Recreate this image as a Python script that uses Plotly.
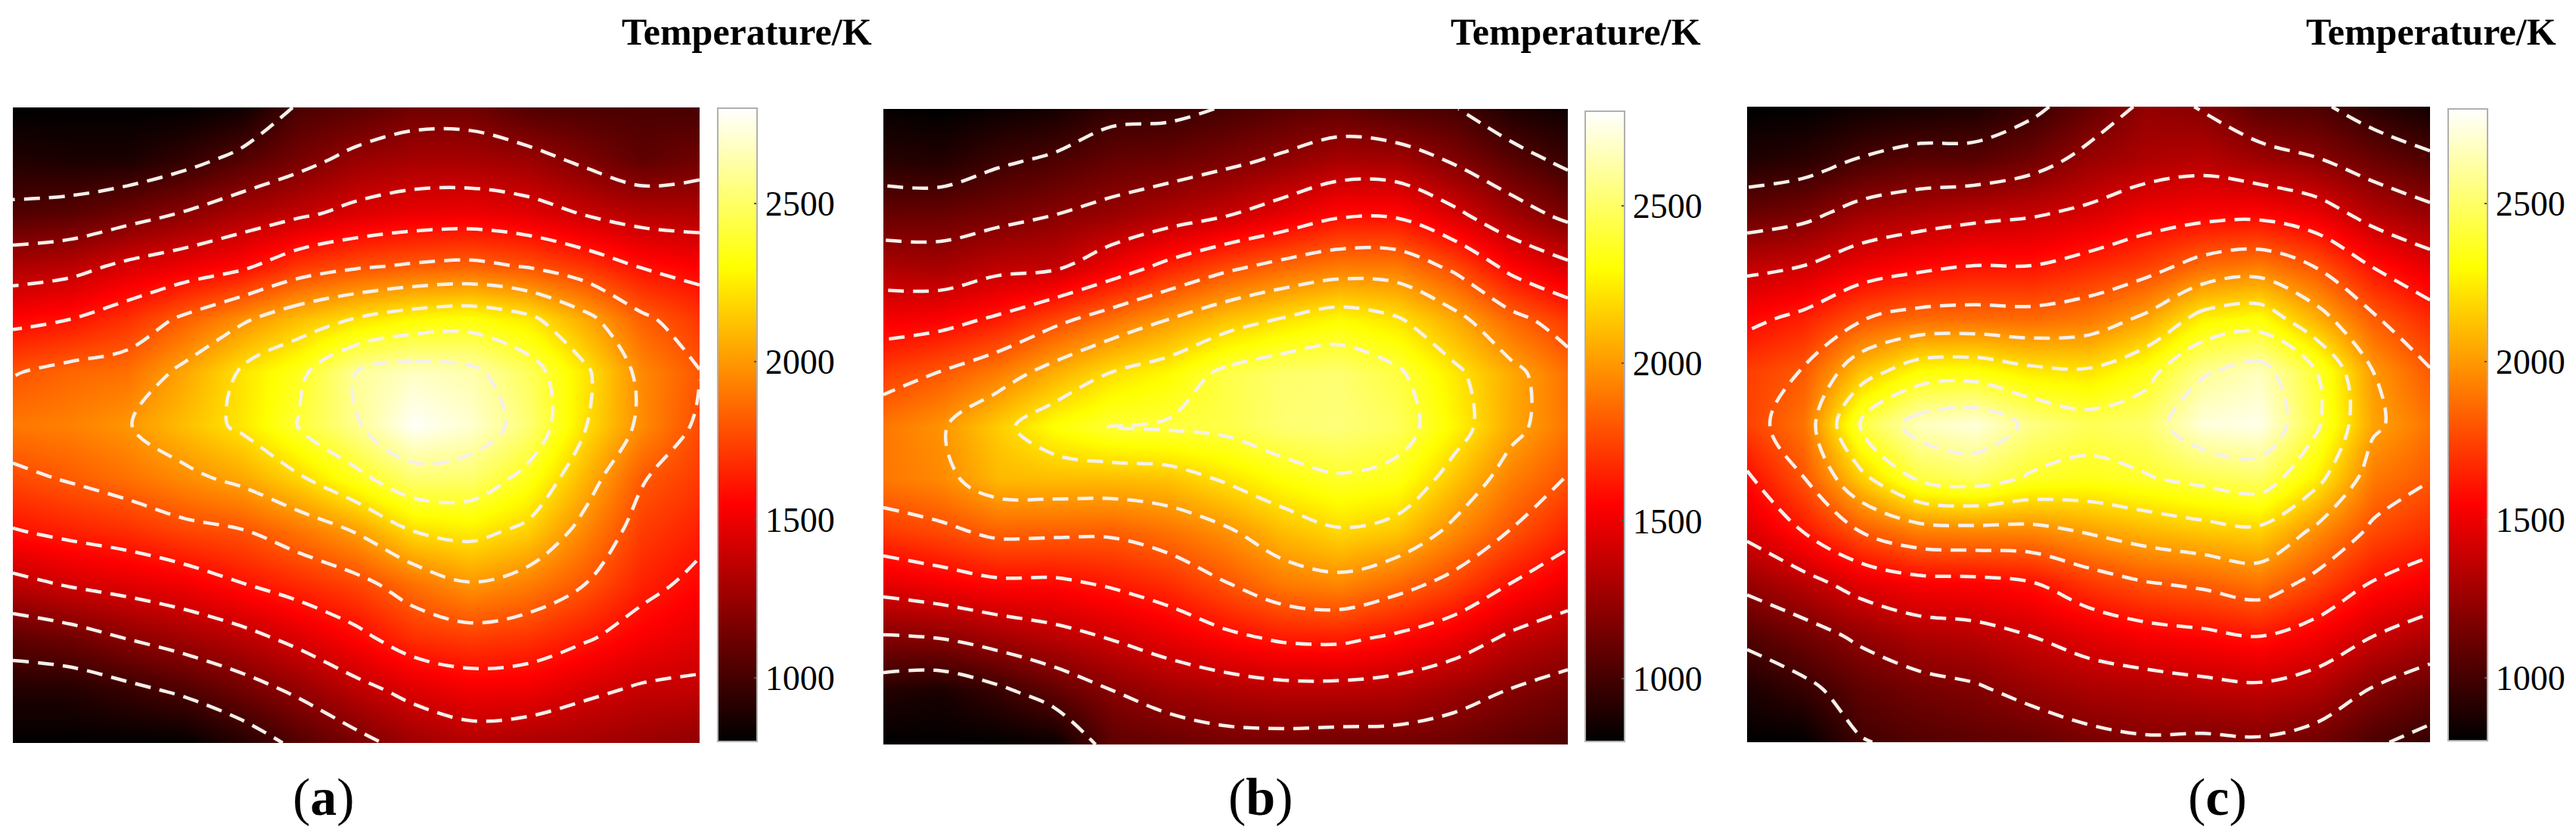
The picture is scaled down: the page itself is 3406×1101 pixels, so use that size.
import plotly.graph_objects as go

# temperature, K, rows top to bottom, columns left to right
temp_a = [
    [800, 800, 800, 800, 840, 1020, 1060, 1130, 1130, 1040, 1020, 1015, 1010],
    [900, 880, 880, 950, 1050, 1150, 1250, 1290, 1290, 1260, 1170, 1080, 1130],
    [1035, 1060, 1130, 1210, 1300, 1370, 1445, 1490, 1500, 1465, 1390, 1330, 1320],
    [1310, 1345, 1435, 1500, 1570, 1710, 1780, 1820, 1840, 1790, 1700, 1590, 1540],
    [1555, 1600, 1690, 1830, 1975, 2110, 2210, 2290, 2320, 2240, 2050, 1830, 1710],
    [1790, 1850, 1880, 2040, 2220, 2360, 2600, 2680, 2640, 2480, 2230, 1950, 1805],
    [1900, 1930, 1990, 2110, 2230, 2410, 2580, 2790, 2710, 2530, 2210, 1960, 1770],
    [1760, 1815, 1880, 1960, 2040, 2180, 2355, 2520, 2510, 2350, 2080, 1810, 1720],
    [1590, 1640, 1680, 1750, 1790, 1890, 2010, 2200, 2250, 2160, 1940, 1725, 1640],
    [1350, 1415, 1460, 1510, 1595, 1670, 1750, 1880, 1990, 1920, 1800, 1645, 1560],
    [1080, 1130, 1210, 1280, 1350, 1450, 1560, 1690, 1730, 1700, 1620, 1530, 1470],
    [900, 900, 960, 1030, 1130, 1230, 1350, 1450, 1510, 1500, 1430, 1380, 1370],
    [800, 800, 800, 800, 900, 1040, 1150, 1260, 1320, 1300, 1280, 1250, 1220],
]

temp_b = [
    [820, 800, 830, 860, 950, 960, 1010, 1060, 1090, 1040, 1010, 890, 840],
    [920, 900, 980, 1030, 1100, 1120, 1170, 1230, 1300, 1290, 1190, 1070, 970],
    [1100, 1110, 1150, 1200, 1250, 1320, 1390, 1480, 1580, 1580, 1440, 1280, 1160],
    [1310, 1290, 1360, 1380, 1515, 1650, 1770, 1860, 1920, 1915, 1775, 1560, 1440],
    [1525, 1550, 1630, 1765, 1890, 2010, 2130, 2220, 2300, 2225, 2060, 1860, 1720],
    [1735, 1810, 1920, 2070, 2210, 2290, 2440, 2510, 2520, 2430, 2240, 2050, 1880],
    [1900, 1980, 2150, 2310, 2405, 2420, 2440, 2520, 2540, 2480, 2280, 2050, 1890],
    [1900, 1950, 2090, 2100, 2100, 2120, 2215, 2310, 2380, 2340, 2130, 1920, 1790],
    [1710, 1760, 1830, 1825, 1820, 1880, 1970, 2100, 2180, 2130, 1955, 1790, 1650],
    [1460, 1510, 1560, 1560, 1610, 1675, 1785, 1900, 1940, 1850, 1740, 1590, 1490],
    [1180, 1200, 1270, 1340, 1405, 1480, 1560, 1620, 1630, 1570, 1490, 1370, 1300],
    [900, 870, 960, 1080, 1195, 1270, 1310, 1340, 1340, 1320, 1260, 1190, 1130],
    [800, 800, 800, 820, 1070, 1100, 1140, 1140, 1130, 1130, 1110, 1060, 1020],
]

temp_c = [
    [800, 800, 840, 860, 880, 960, 1090, 1230, 1195, 1060, 1030, 920, 850],
    [890, 920, 1010, 1060, 1060, 1130, 1250, 1310, 1340, 1270, 1210, 1110, 1030],
    [1100, 1150, 1260, 1310, 1350, 1380, 1430, 1510, 1540, 1550, 1480, 1330, 1240],
    [1360, 1400, 1500, 1560, 1600, 1600, 1660, 1730, 1860, 1910, 1790, 1590, 1470],
    [1560, 1640, 1790, 1860, 1870, 1860, 1900, 2030, 2260, 2310, 2070, 1820, 1670],
    [1730, 1810, 2120, 2300, 2320, 2240, 2220, 2340, 2580, 2670, 2400, 2000, 1810],
    [1740, 1890, 2430, 2670, 2730, 2560, 2470, 2510, 2730, 2760, 2430, 2030, 1890],
    [1580, 1800, 2160, 2430, 2490, 2380, 2350, 2390, 2450, 2500, 2260, 1910, 1810],
    [1440, 1610, 1810, 1930, 1950, 1950, 2020, 2090, 2140, 2170, 1970, 1770, 1680],
    [1245, 1340, 1470, 1540, 1550, 1590, 1710, 1790, 1830, 1890, 1750, 1590, 1520],
    [1040, 1130, 1230, 1310, 1340, 1400, 1470, 1530, 1560, 1600, 1520, 1400, 1310],
    [880, 960, 1080, 1140, 1180, 1250, 1300, 1320, 1350, 1370, 1320, 1190, 1100],
    [800, 800, 990, 1040, 1070, 1090, 1150, 1180, 1170, 1180, 1130, 1020, 950],
]

col_pos = [0, 1, 2, 3, 4, 5, 6, 7, 8, 9, 10, 11, 12]
row_pos = [0, 1, 2, 3, 4, 5, 6, 7, 8, 9, 10, 11, 12]
cbar_ticks = [1000, 1500, 2000, 2500]
panel_labels = ['a', 'b', 'c']
cbar_title = 'Temperature/K'

W, H = 3406, 1101
PAGE = 8  # the page body margin shifts everything by this much
SERIF = 'Liberation Serif'
hot = [[0, '#000000'], [0.375, '#ff0000'], [0.75, '#ffff00'], [1, '#ffffff']]

# pixel boxes: heat map x0, x1, y0, y1, then colour bar x0, y0, y1, title x, label x
panels = [
    (17, 925, 142, 982, 949, 143, 980, 987, 428),
    (1168, 2073, 144, 984, 2096, 147, 980, 2083, 1667),
    (2310, 3213, 141, 981, 3237, 144, 979, 3214, 2932),
]


def px_x(v):
    return (v - PAGE) / W


def px_y(v):
    return 1 - (v - PAGE) / H


fig = go.Figure()
annotations = []
for i, (temp, box) in enumerate(zip([temp_a, temp_b, temp_c], panels)):
    x0, x1, y0, y1, bx, by0, by1, title_x, label_x = box
    xname = 'x' if i == 0 else 'x%d' % (i + 1)
    yname = 'y' if i == 0 else 'y%d' % (i + 1)
    fig.add_trace(go.Heatmap(
        z=temp, x=col_pos, y=row_pos, xaxis=xname, yaxis=yname,
        colorscale=hot, zmin=800, zmax=2800, zsmooth='best',
        colorbar=dict(
            x=px_x(bx), xanchor='left', xpad=0,
            y=px_y(by0), yanchor='top', ypad=0,
            thickness=52, thicknessmode='pixels',
            len=by1 - by0, lenmode='pixels',
            outlinecolor='#b0b0b0', outlinewidth=2,
            tickvals=cbar_ticks, ticks='inside', ticklen=5, tickwidth=2,
            tickcolor='#555555', tickprefix='\u00a0',
            tickfont=dict(family=SERIF, size=46, color='#000000'),
        ),
    ))
    fig.add_trace(go.Contour(
        z=temp, x=col_pos, y=row_pos, xaxis=xname, yaxis=yname,
        showscale=False, hoverinfo='skip',
        contours=dict(start=1000, end=2600, size=200, coloring='none'),
        line=dict(color='#f4f0ea', width=4.5, dash='21px,12px', smoothing=1),
    ))
    axis = dict(visible=False, range=[0, 12], showgrid=False, zeroline=False)
    fig.update_layout({
        ('xaxis' if i == 0 else 'xaxis%d' % (i + 1)): dict(axis, domain=[px_x(x0), px_x(x1)], anchor=yname),
        ('yaxis' if i == 0 else 'yaxis%d' % (i + 1)): dict(axis, domain=[px_y(y1), px_y(y0)],
                                                          range=[12, 0], anchor=xname),
    })
    annotations.append(dict(
        text='<b>%s</b>' % cbar_title, x=px_x(title_x), y=px_y(42),
        xref='paper', yref='paper', xanchor='center', yanchor='middle', showarrow=False,
        font=dict(family=SERIF, size=50, color='#000000'),
    ))
    annotations.append(dict(
        text='(<b>%s</b>)' % panel_labels[i], x=px_x(label_x), y=px_y(1053),
        xref='paper', yref='paper', xanchor='center', yanchor='middle', showarrow=False,
        font=dict(family=SERIF, size=70, color='#000000'),
    ))

fig.update_layout(
    width=W, height=H,
    margin=dict(l=0, r=0, t=0, b=0),
    paper_bgcolor='white', plot_bgcolor='white',
    showlegend=False,
    annotations=annotations,
)
fig.write_html("out.html")
